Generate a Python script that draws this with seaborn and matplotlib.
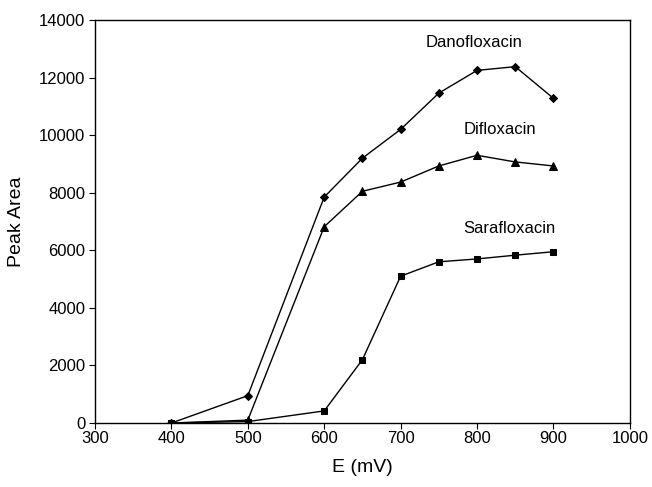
import matplotlib
matplotlib.use("Agg")
import matplotlib.pyplot as plt
import seaborn as sns
import pandas as pd

E_mV = [400, 500, 600, 650, 700, 750, 800, 850, 900]
danofloxacin = [0, 950, 7850, 9200, 10200, 11460, 12250, 12380, 11280]
difloxacin = [0, 100, 6820, 8050, 8370, 8930, 9300, 9070, 8930]
sarafloxacin = [0, 50, 420, 2200, 5100, 5600, 5700, 5830, 5950]
series_names = ["Danofloxacin", "Difloxacin", "Sarafloxacin"]
label_pos = {"Danofloxacin": (796, 13230), "Difloxacin": (830, 10180), "Sarafloxacin": (842, 6770)}
x_ticks = [300, 400, 500, 600, 700, 800, 900, 1000]
y_ticks = [0, 2000, 4000, 6000, 8000, 10000, 12000, 14000]

sns.set_style("ticks")
plt.rcParams['font.family'] = ['Liberation Sans', 'DejaVu Sans']
plt.rcParams['text.color'] = 'black'
plt.rcParams['axes.labelcolor'] = 'black'
plt.rcParams['xtick.color'] = 'black'
plt.rcParams['ytick.color'] = 'black'

rows = []
for name, vals in zip(series_names, [danofloxacin, difloxacin, sarafloxacin]):
    for e, v in zip(E_mV, vals):
        rows.append({"E": e, "Peak Area": v, "Compound": name})
df = pd.DataFrame(rows)

fig = plt.figure(figsize=(6.52, 4.87), dpi=100)
ax = fig.add_axes([0.1457, 0.1314, 0.8203, 0.8275])

sns.lineplot(data=df, x="E", y="Peak Area", hue="Compound", style="Compound",
             palette={n: "black" for n in series_names},
             markers={"Danofloxacin": "D", "Difloxacin": "^", "Sarafloxacin": "s"},
             dashes=False, markersize=5, linewidth=1, markeredgecolor="black",
             legend=False, ax=ax)

msize = {"D": 4.0, "^": 6.0, "s": 5.0}
for ln in ax.lines:
    m = ln.get_marker()
    if m in msize:
        ln.set_markersize(msize[m])

for name, (x, y) in label_pos.items():
    ax.text(x, y, name, ha="center", va="center", fontsize=12, color="black")

ax.set_xlim(300, 1000)
ax.set_ylim(0, 14000)
ax.set_xticks(x_ticks)
ax.set_yticks(y_ticks)
ax.tick_params(axis="x", direction="out", length=4, labelsize=12, pad=2,
               color="black", labelcolor="black")
ax.tick_params(axis="y", direction="out", length=4, labelsize=12, pad=3,
               color="black", labelcolor="black")
ax.set_xlabel("E (mV)", fontsize=14, labelpad=9, color="black")
ax.set_ylabel("Peak Area", fontsize=14, labelpad=10, color="black")
for s in ax.spines.values():
    s.set_visible(True)
    s.set_color("black")
    s.set_linewidth(1)

fig.savefig("out.png", dpi=100)
